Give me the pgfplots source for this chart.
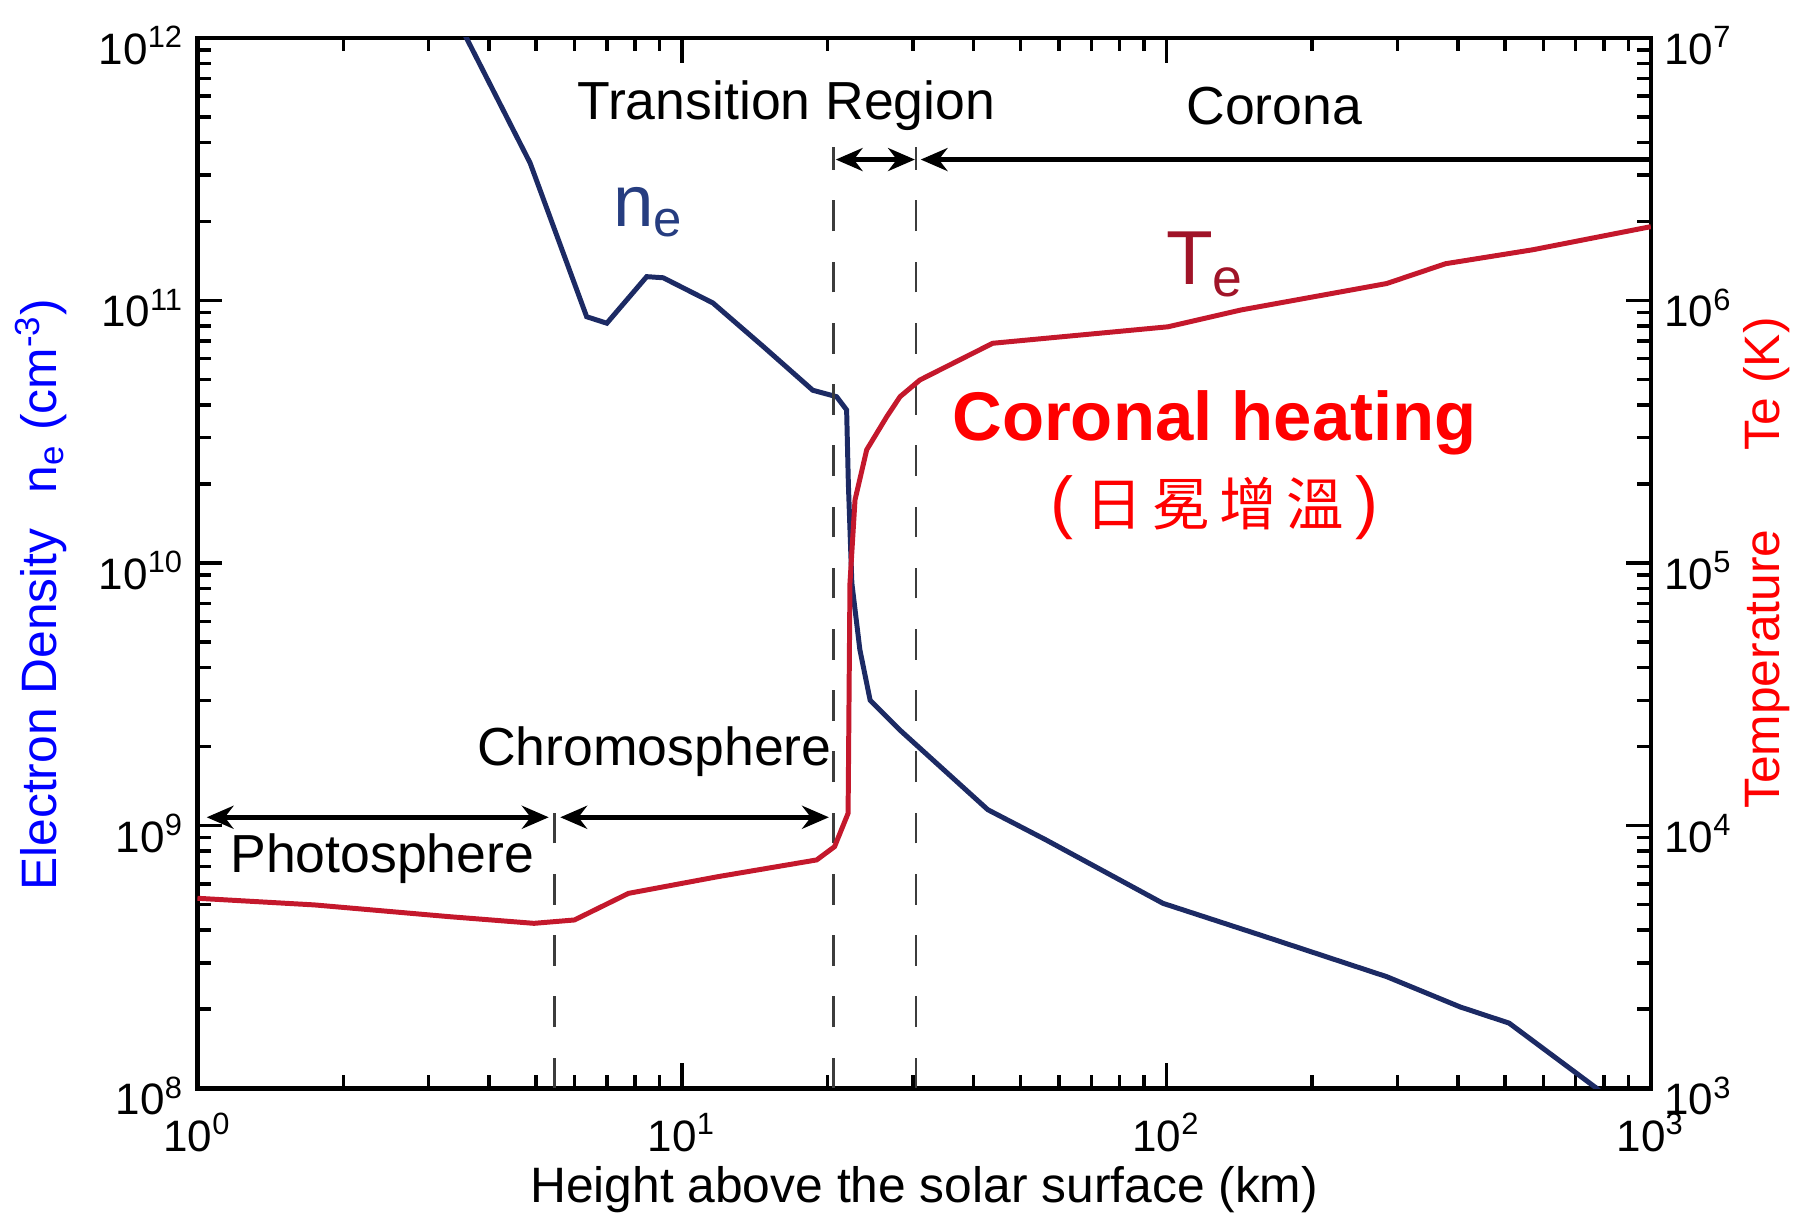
\documentclass[border=0pt]{standalone}
\usepackage{pgfplots}
\pgfplotsset{compat=1.18}
\usetikzlibrary{arrows.meta}
\usepackage{fontspec}
\setmainfont{Liberation Sans}
\newfontfamily\cjk{Noto Sans CJK TC}
\definecolor{necol}{RGB}{28,42,100}
\definecolor{tecol}{RGB}{196,24,44}
\definecolor{nelab}{RGB}{38,61,128}
\definecolor{telab}{RGB}{160,20,40}
\definecolor{dashc}{RGB}{60,60,60}

\pgfplotstableread{
h n
3.48 1.12e12
4.86 3.34e11
6.36 8.67e10
7.00 8.19e10
8.46 1.232e11
9.15 1.22e11
11.59 9.78e10
14.73 6.67e10
18.63 4.55e10
20.86 4.30e10
21.88 3.83e10
22.06 2.01e10
22.43 8.39e9
23.30 4.68e9
24.47 3.0e9
28.2 2.31e9
42.8 1.15e9
56.4 8.83e8
98.4 5.06e8
159.9 3.78e8
285 2.66e8
404 2.04e8
510 1.77e8
773 1.0e8
820 0.9e8
}\netable

\pgfplotstableread{
h T
1.0 5290
1.745 4990
3.30 4504
4.95 4246
6.0 4373
7.76 5523
11.87 6394
18.98 7404
20.66 8318
22.03 11140
22.06 14500
22.23 83800
22.77 174000
24.07 270000
26.48 361000
28.2 430000
31.0 498000
43.8 687000
100.8 794000
142.6 920000
285 1160000
377 1380000
571 1560000
1000 1910000
}\tetable

\begin{document}
\begin{tikzpicture}
\begin{axis}[name=main,
  scale only axis, width=379.8pt, height=274.5pt,
  xmode=log, ymode=log, xmin=1, xmax=1000, ymin=1e8, ymax=1e12,
  axis line style={line width=1.2pt},
  tick style={black, line width=0.9pt},
  major tick length=6.5pt, minor tick length=3.5pt,
  xticklabel={\pgfmathparse{int(round(\tick/2.302585093))}10\textsuperscript{\pgfmathresult}},
  yticklabel={\pgfmathparse{int(round(\tick/2.302585093))}10\textsuperscript{\pgfmathresult}},
  ticklabel style={font=\fontsize{11.5}{13}\selectfont},
  xticklabel style={yshift=-3pt},
  yticklabel style={yshift=-2pt},
  xlabel={Height above the solar surface (km)},
  ylabel={Electron Density\hspace{0.7em}n\textsubscript{e} (cm\textsuperscript{-3})},
  xlabel style={font=\fontsize{13}{15}\selectfont, yshift=3pt},
  ylabel style={font=\fontsize{13}{15}\selectfont, color=blue, at={(ticklabel cs:0.47)}, yshift=1.5pt},
]
\addplot[necol, line width=1.3pt] table[x=h, y=n] {\netable};

\draw[dashc, line width=0.6pt, dash pattern=on 8pt off 8pt] (axis cs:5.46,1e8) -- (axis cs:5.46,1.41e9);
\draw[dashc, line width=0.6pt, dash pattern=on 8pt off 8pt] (axis cs:20.55,1e8) -- (axis cs:20.55,3.85e11);
\draw[dashc, line width=0.6pt, dash pattern=on 8pt off 8pt] (axis cs:30.4,1e8) -- (axis cs:30.4,3.85e11);

\draw[line width=1.3pt, {Stealth[length=7pt,width=6pt]}-{Stealth[length=7pt,width=6pt]}] (axis cs:1.045,1.076e9) -- (axis cs:5.31,1.076e9);
\draw[line width=1.3pt, {Stealth[length=7pt,width=6pt]}-{Stealth[length=7pt,width=6pt]}] (axis cs:5.61,1.076e9) -- (axis cs:20.11,1.076e9);
\draw[line width=1.3pt, {Stealth[length=7pt,width=6pt]}-{Stealth[length=7pt,width=6pt]}] (axis cs:20.78,3.44e11) -- (axis cs:30.27,3.44e11);
\draw[line width=1.3pt, {Stealth[length=7pt,width=6pt]}-] (axis cs:31.12,3.44e11) -- (axis cs:1000,3.44e11);

\node[font=\fontsize{14}{16}\selectfont] at (rel axis cs:0.4052,0.9355) {Transition Region};
\node[font=\fontsize{14}{16}\selectfont] at (rel axis cs:0.7409,0.9355) {Corona};
\node[font=\fontsize{14}{16}\selectfont] at (rel axis cs:0.3144,0.3202) {Chromosphere};
\node[font=\fontsize{14}{16}\selectfont] at (rel axis cs:0.1272,0.2186) {Photosphere};
\node[nelab, font=\fontsize{19}{22}\selectfont] at (rel axis cs:0.3104,0.8339) {n\textsubscript{e}};
\node[telab, font=\fontsize{20}{23}\selectfont] at (rel axis cs:0.6935,0.7847) {T\textsubscript{e}};
\node[red, font=\fontsize{18}{21}\selectfont\bfseries] at (rel axis cs:0.6998,0.6339) {Coronal heating};
\node[red, font=\fontsize{18}{21}\selectfont] at (rel axis cs:0.6998,0.553) {(\,{\cjk\fontsize{15}{18}\selectfont 日\hspace{2.5pt}冕\hspace{2.5pt}增\hspace{2.5pt}溫}\,)};
\end{axis}

\begin{axis}[
  scale only axis, width=379.8pt, height=274.5pt,
  xmode=log, ymode=log, xmin=1, xmax=1000, ymin=1e3, ymax=1e7,
  axis y line*=right, axis x line=none,
  ytick pos=right, yticklabel pos=right,
  axis line style={line width=1.2pt},
  tick style={black, line width=0.9pt},
  major tick length=6.5pt, minor tick length=3.5pt,
  yticklabel={\pgfmathparse{int(round(\tick/2.302585093))}10\textsuperscript{\pgfmathresult}},
  ticklabel style={font=\fontsize{11.5}{13}\selectfont},
  yticklabel style={yshift=-2pt},
  ylabel={Temperature\hspace{1.6em}Te (K)},
  ylabel style={font=\fontsize{13}{15}\selectfont, color=red, yshift=4pt},
]
\addplot[tecol, line width=1.3pt] table[x=h, y=T] {\tetable};
\end{axis}

\pgfresetboundingbox
\path[use as bounding box] ([xshift=-51.6pt,yshift=-33pt]main.south west) rectangle ([xshift=39pt,yshift=9.9pt]main.north east);
\end{tikzpicture}
\end{document}
